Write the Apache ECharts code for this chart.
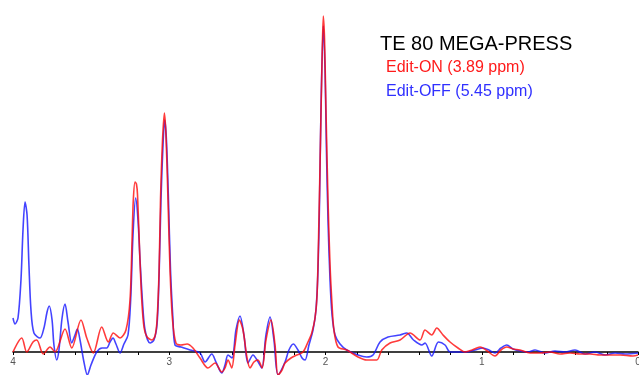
<!DOCTYPE html>
<html>
<head>
<meta charset="utf-8">
<script src="https://cdn.jsdelivr.net/npm/echarts@6/dist/echarts.min.js"></script>
<style>
html,body{margin:0;padding:0;background:#fff;}
#chart{width:639px;height:375px;}
</style>
</head>
<body>
<div id="chart"></div>
<script>
// chemical shift (ppm) and amplitude (a.u.)
var onPpm = [4.000,3.944,3.912,3.872,3.848,3.806,3.763,3.731,3.667,3.624,3.565,3.528,3.486,3.432,3.390,3.358,3.315,3.277,3.251,3.238,3.230,3.219,3.210,3.203,3.190,3.176,3.161,3.142,3.110,3.091,3.078,3.065,3.056,3.043,3.031,3.021,3.008,2.995,2.979,2.957,2.925,2.886,2.848,2.803,2.752,2.707,2.664,2.643,2.624,2.600,2.579,2.551,2.528,2.502,2.483,2.458,2.432,2.406,2.381,2.349,2.323,2.304,2.278,2.259,2.221,2.184,2.144,2.112,2.088,2.067,2.054,2.042,2.032,2.022,2.014,2.006,1.997,1.984,1.971,1.958,1.946,1.920,1.864,1.792,1.736,1.672,1.640,1.587,1.523,1.459,1.395,1.363,1.320,1.288,1.248,1.203,1.152,1.107,1.062,1.011,0.973,0.915,0.877,0.840,0.800,0.755,0.691,0.627,0.563,0.499,0.435,0.371,0.307,0.243,0.179,0.115,0.032,0.000];
var onAmp = [0,14,0,10,12,-2,5,0,23,4,32,14,-1,25,10,19,14,22,52,112,152,170,168,157,102,52,24,15,12,16,32,82,152,212,239,217,152,82,32,9,7,8,4,-6,-16,-11,-20,-16,-8,-16,7,32,22,-6,-16,-10,-8,-16,12,32,7,-23,-18,-11,-6,-3,0,10,19,34,57,132,212,292,336,312,242,152,87,47,22,5,2,-5,-8,-8,2,9,12,19,12,22,17,24,17,10,4,0,2,5,2,-4,2,5,3,2,-1,-1,0,-2,-1,-2,-2,-3,-3,-3,-4,-3];

var offPpm = [4.000,3.987,3.968,3.949,3.936,3.923,3.910,3.898,3.885,3.866,3.827,3.802,3.782,3.768,3.750,3.738,3.720,3.706,3.686,3.667,3.648,3.624,3.603,3.588,3.571,3.546,3.524,3.501,3.464,3.430,3.400,3.379,3.360,3.341,3.315,3.290,3.264,3.247,3.232,3.215,3.200,3.187,3.172,3.155,3.123,3.098,3.078,3.065,3.053,3.040,3.029,3.018,3.005,2.992,2.976,2.963,2.925,2.867,2.803,2.771,2.728,2.701,2.664,2.643,2.624,2.598,2.573,2.547,2.522,2.496,2.464,2.438,2.408,2.381,2.355,2.330,2.304,2.259,2.234,2.206,2.176,2.150,2.131,2.106,2.080,2.061,2.048,2.038,2.029,2.014,2.003,1.994,1.984,1.971,1.958,1.939,1.907,1.864,1.792,1.736,1.696,1.651,1.600,1.523,1.480,1.437,1.384,1.363,1.320,1.277,1.235,1.203,1.152,1.096,1.043,0.992,0.954,0.915,0.877,0.840,0.800,0.755,0.704,0.659,0.595,0.531,0.467,0.403,0.339,0.275,0.211,0.147,0.083,0.000];
var offAmp = [34,28,34,72,122,150,137,87,42,19,14,24,40,46,32,7,-8,2,34,48,30,9,17,23,12,-10,-23,-13,0,4,4,10,14,8,-1,8,17,52,117,154,132,92,52,22,9,12,28,77,152,207,232,212,152,82,32,7,5,2,-1,-10,-2,-10,-21,-13,-3,-6,22,36,17,-11,-3,-8,-16,17,35,12,-23,-10,2,8,2,-6,-8,7,22,42,82,152,242,326,282,202,132,72,37,17,8,2,-3,-5,-3,10,15,17,19,12,7,9,-4,10,7,0,0,0,2,4,2,-1,4,7,3,1,0,2,-1,1,0,2,-2,0,-3,-1,-2,-1];

var xTicks = ['4', '3', '2', '1', '0'];

function zip(xs, ys) {
    var out = [];
    for (var i = 0; i < xs.length; i++) {
        out.push([xs[i], ys[i]]);
    }
    return out;
}

var chart = echarts.init(document.getElementById('chart'));
var option = {
    backgroundColor: '#ffffff',
    animation: false,
    grid: {
        left: 13,
        right: 1,
        top: 0,
        bottom: 23,
        containLabel: false,
        outerBoundsMode: 'none'
    },
    xAxis: {
        type: 'value',
        inverse: true,
        min: 0,
        max: 4,
        interval: 0.2,
        axisLine: {
            onZero: false,
            lineStyle: { color: '#000', width: 1.5 }
        },
        axisTick: {
            show: true,
            length: 3,
            lineStyle: { color: '#000', width: 1 }
        },
        axisLabel: {
            color: '#555',
            fontFamily: 'Liberation Sans, Arial, sans-serif',
            fontSize: 10,
            margin: 5,
            showMaxLabel: true,
            showMinLabel: true,
            hideOverlap: false,
            formatter: function (v) {
                var r = Math.round(v);
                if (Math.abs(v - r) < 1e-6) {
                    return xTicks[4 - r];
                }
                return '';
            }
        },
        splitLine: { show: false }
    },
    yAxis: {
        type: 'value',
        min: 0,
        max: 352,
        show: false,
        splitLine: { show: false }
    },
    graphic: [
        {
            type: 'text',
            left: 380,
            top: 34,
            style: {
                text: 'TE 80 MEGA-PRESS',
                fill: '#000',
                font: '20px "Liberation Sans", Arial, sans-serif'
            }
        },
        {
            type: 'text',
            left: 386,
            top: 60,
            style: {
                text: 'Edit-ON (3.89 ppm)',
                fill: '#ff1a1a',
                font: '16px "Liberation Sans", Arial, sans-serif'
            }
        },
        {
            type: 'text',
            left: 386,
            top: 84,
            style: {
                text: 'Edit-OFF (5.45 ppm)',
                fill: '#3030ff',
                font: '16px "Liberation Sans", Arial, sans-serif'
            }
        }
    ],
    series: [
        {
            name: 'Edit-OFF',
            type: 'line',
            data: zip(offPpm, offAmp),
            smooth: 0.3,
            showSymbol: false,
            clip: false,
            lineStyle: { color: 'rgba(20,20,255,0.8)', width: 1.6 }
        },
        {
            name: 'Edit-ON',
            type: 'line',
            data: zip(onPpm, onAmp),
            smooth: 0.3,
            showSymbol: false,
            clip: false,
            lineStyle: { color: 'rgba(255,10,10,0.8)', width: 1.6 }
        }
    ]
};
chart.setOption(option);
</script>
</body>
</html>
